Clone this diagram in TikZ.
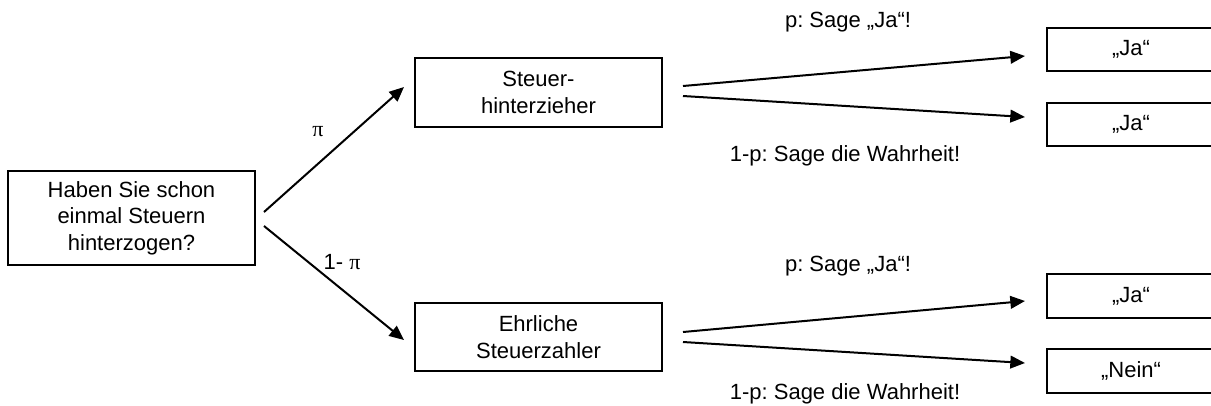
\documentclass[tikz,border=0pt]{standalone}
\usepackage{fontspec}
\setmainfont{Liberation Sans}
\newfontfamily\pifont{Liberation Serif}
\usetikzlibrary{arrows.meta}
\frenchspacing
\begin{document}
\begin{tikzpicture}[x=0.75pt,y=-0.75pt,
  txt/.style={font=\fontsize{16.5}{20}\selectfont},
  box/.style={txt,draw,line width=1.5pt,inner sep=0pt,align=center,minimum width=185.25pt},
  ans/.style={txt,draw,line width=1.5pt,inner sep=0pt,minimum width=126pt,minimum height=32.5pt},
  arr/.style={line width=1.5pt,-{Triangle[length=11pt,width=9.5pt]}},
  lbl/.style={txt,inner sep=0pt}]
\useasboundingbox (0,0) rectangle (1211,405);
% nodes
\node[box,minimum height=70.5pt] (q) at (131.5,218) {Haben Sie schon\\einmal Steuern\\hinterzogen?};
\node[box,minimum height=51.75pt] (s) at (538.5,92.5) {Steuer-\\hinterzieher};
\node[box,minimum height=51pt] (e) at (538.5,337) {Ehrliche\\Steuerzahler};
\node[ans] (a1) at (1131,49.5) {„Ja“};
\node[ans] (a2) at (1131,124.5) {„Ja“};
\node[ans] (a3) at (1131,296) {„Ja“};
\node[ans] (a4) at (1131,371) {„Nein“};
% connector end points
\coordinate (q1) at (264,212);
\coordinate (q2) at (264,226);
\coordinate (s0) at (404,87);
\coordinate (e0) at (404,340);
\coordinate (s1) at (683,86);
\coordinate (s2) at (683,96);
\coordinate (e1) at (683,332);
\coordinate (e2) at (683,342);
\coordinate (t1) at (1025,56);
\coordinate (t2) at (1025,117);
\coordinate (t3) at (1025,301);
\coordinate (t4) at (1025,363);
% connectors
\draw[arr] (q1) -- (s0);
\draw[arr] (q2) -- (e0);
\draw[arr] (s1) -- (t1);
\draw[arr] (s2) -- (t2);
\draw[arr] (e1) -- (t3);
\draw[arr] (e2) -- (t4);
% labels
\node[lbl] (lpi) at (318,132) {\pifont π};
\node[lbl] (lpi2) at (342,262) {1- {\pifont π}};
\node[lbl] (l1) at (848,22) {p: Sage „Ja“!};
\node[lbl] (l2) at (845,156) {1-p: Sage die Wahrheit!};
\node[lbl] (l3) at (848,266) {p: Sage „Ja“!};
\node[lbl] (l4) at (845,394) {1-p: Sage die Wahrheit!};
\end{tikzpicture}
\end{document}
